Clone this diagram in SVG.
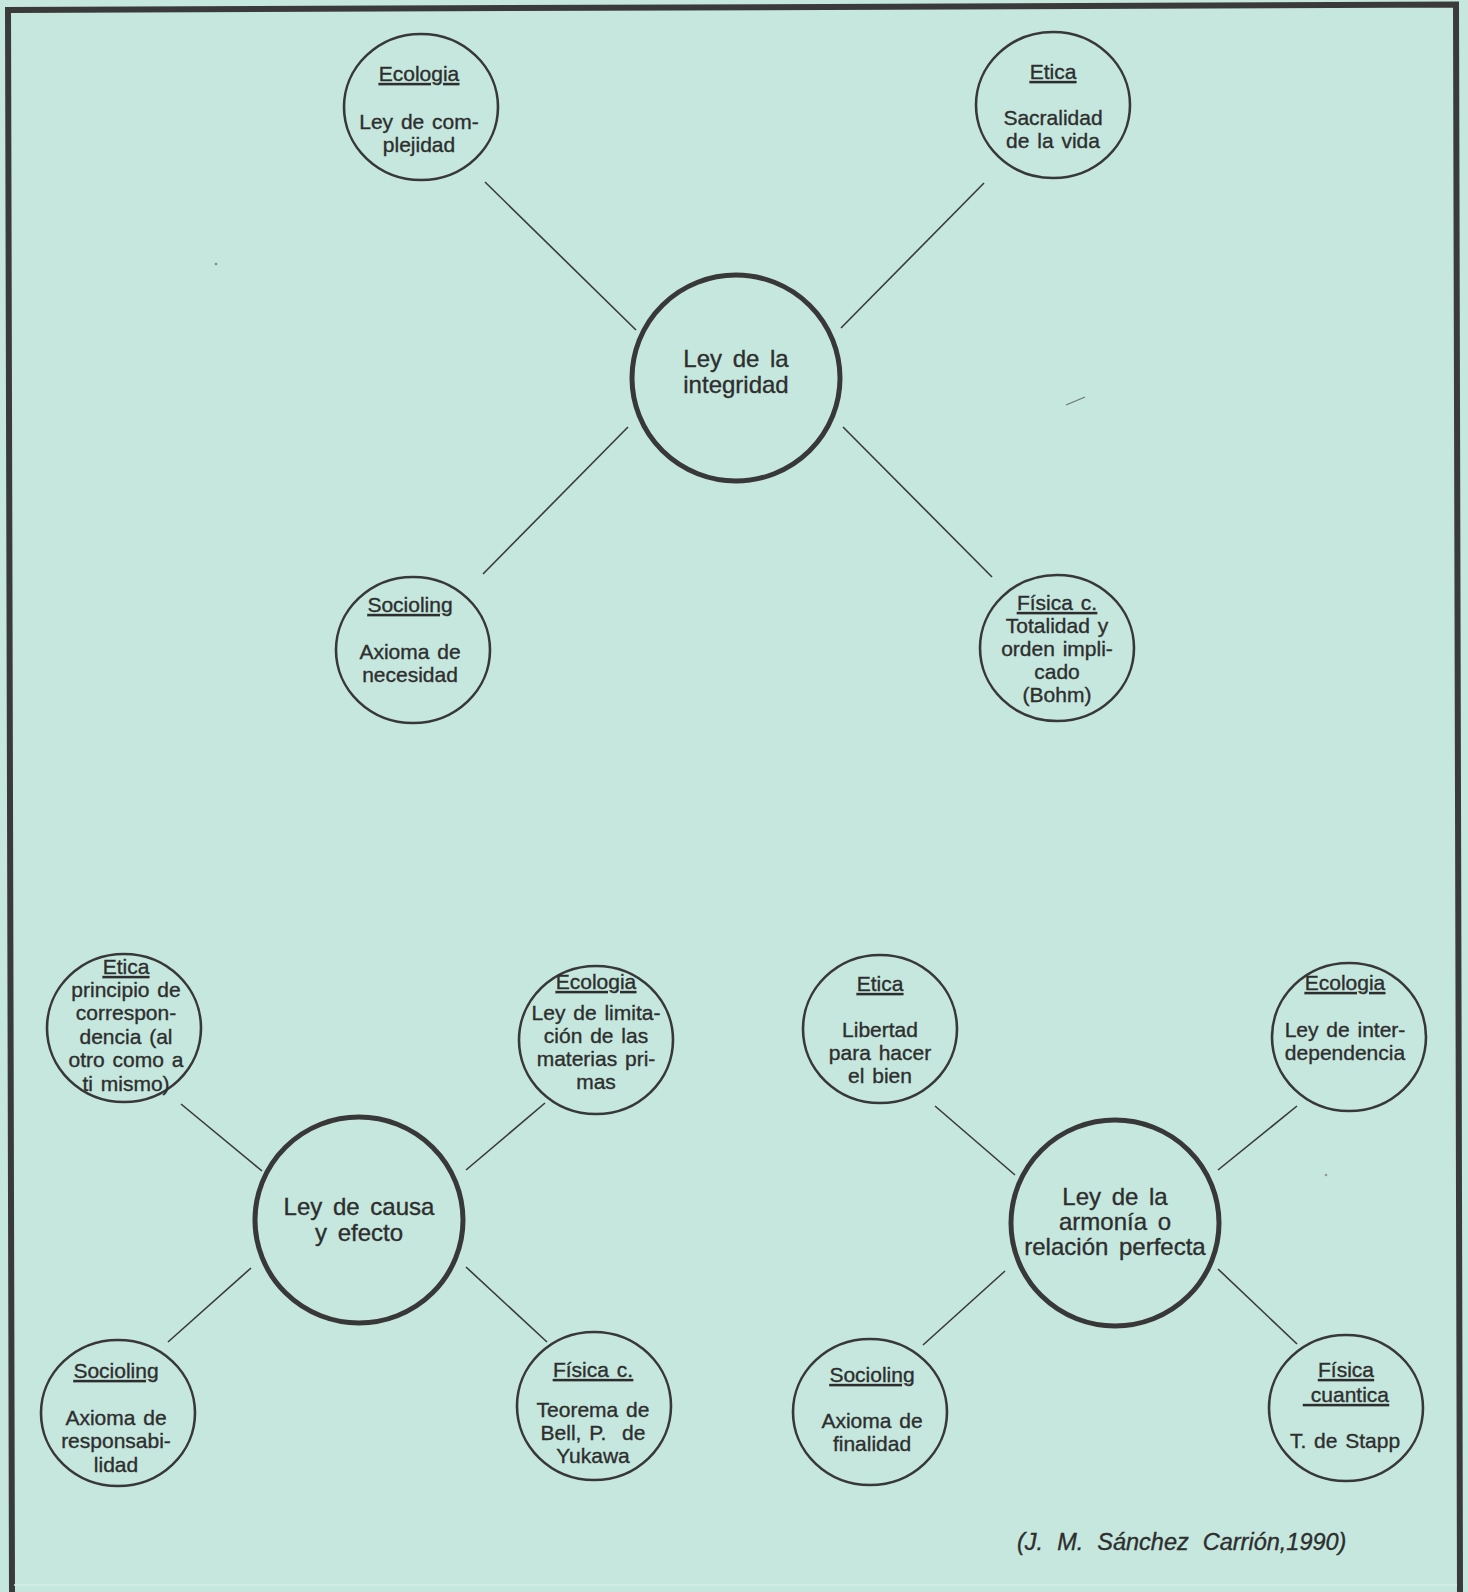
<svg xmlns="http://www.w3.org/2000/svg" width="1468" height="1592" viewBox="0 0 1468 1592">
<style>
.bg{fill:#c5e7dd}
.frame{fill:none;stroke:#3a3a3a;stroke-width:6;stroke-linejoin:miter}
.node{fill:none;stroke:#383838;stroke-width:2.6}
.hub{fill:none;stroke:#383838;stroke-width:5}
.edge{stroke:#3a3a3a;stroke-width:1.6;fill:none}
.mark{stroke:#6a7a76;stroke-width:1.2;fill:none}
text{font-family:"Liberation Sans",Arial,Helvetica,sans-serif;fill:#2e2e2e;stroke:#2e2e2e;stroke-width:0.35;text-anchor:middle}
.s{font-size:21px;word-spacing:2px}
.h{font-size:24px;word-spacing:4px}
.u{text-decoration:underline}
.cite{font-size:23.5px;font-style:italic;word-spacing:7.5px;text-anchor:start}
</style>
<rect class="bg" x="0" y="0" width="1468" height="1592"/>
<path class="frame" d="M12,1592 L8,10 L1456,4.5 L1460,1592"/>
<line x1="14" y1="1585" x2="1457" y2="1585" stroke="#d6efe8" stroke-width="1.5"/>
<g id="marks">
<circle cx="216" cy="264" r="1.3" fill="#7d8a86"/>
<path class="mark" d="M1066,405 L1085,397"/>
<circle cx="1326" cy="1175" r="1.3" fill="#8d9a96"/>
</g>
<g id="connectors">
<line class="edge" x1="485" y1="182" x2="636" y2="330"/>
<line class="edge" x1="984" y1="183" x2="841" y2="328"/>
<line class="edge" x1="483" y1="574" x2="628" y2="427"/>
<line class="edge" x1="843" y1="427" x2="992" y2="577"/>
<line class="edge" x1="181" y1="1104" x2="262" y2="1171"/>
<line class="edge" x1="545" y1="1103" x2="466" y2="1170"/>
<line class="edge" x1="168" y1="1342" x2="251" y2="1268"/>
<line class="edge" x1="466" y1="1267" x2="547" y2="1342"/>
<line class="edge" x1="935" y1="1106" x2="1015" y2="1175"/>
<line class="edge" x1="1297" y1="1106" x2="1218" y2="1170"/>
<line class="edge" x1="923" y1="1345" x2="1005" y2="1271"/>
<line class="edge" x1="1218" y1="1269" x2="1297" y2="1344"/>
</g>
<g id="hub-integridad">
<ellipse class="hub" cx="736" cy="378" rx="104" ry="103"/>
<text class="h" x="736" y="367">Ley de la</text>
<text class="h" x="736" y="393">integridad</text>
</g>
<g id="integridad-ecologia">
<ellipse class="node" cx="421" cy="107" rx="77" ry="73"/>
<text class="s u" x="419" y="81">Ecologia</text>
<text class="s" x="419" y="129">Ley de com-</text>
<text class="s" x="419" y="152">plejidad</text>
</g>
<g id="integridad-etica">
<ellipse class="node" cx="1053" cy="105" rx="77" ry="73"/>
<text class="s u" x="1053" y="79">Etica</text>
<text class="s" x="1053" y="125">Sacralidad</text>
<text class="s" x="1053" y="148">de la vida</text>
</g>
<g id="integridad-socioling">
<ellipse class="node" cx="413" cy="650" rx="77" ry="73"/>
<text class="s u" x="410" y="612">Socioling</text>
<text class="s" x="410" y="659">Axioma de</text>
<text class="s" x="410" y="682">necesidad</text>
</g>
<g id="integridad-fisica">
<ellipse class="node" cx="1057" cy="648" rx="77" ry="73"/>
<text class="s u" x="1057" y="610">Física c.</text>
<text class="s" x="1057" y="633">Totalidad y</text>
<text class="s" x="1057" y="656">orden impli-</text>
<text class="s" x="1057" y="679">cado</text>
<text class="s" x="1057" y="702">(Bohm)</text>
</g>
<g id="hub-causa">
<ellipse class="hub" cx="359" cy="1220" rx="104" ry="103"/>
<text class="h" x="359" y="1215">Ley de causa</text>
<text class="h" x="359" y="1241">y efecto</text>
</g>
<g id="causa-etica">
<ellipse class="node" cx="124" cy="1028" rx="77" ry="74"/>
<text class="s u" x="126" y="974">Etica</text>
<text class="s" x="126" y="997">principio de</text>
<text class="s" x="126" y="1020">correspon-</text>
<text class="s" x="126" y="1044">dencia (al</text>
<text class="s" x="126" y="1067">otro como a</text>
<text class="s" x="126" y="1091">ti mismo)</text>
</g>
<g id="causa-ecologia">
<ellipse class="node" cx="596" cy="1040" rx="77" ry="74"/>
<text class="s u" x="596" y="989">Ecologia</text>
<text class="s" x="596" y="1020">Ley de limita-</text>
<text class="s" x="596" y="1043">ción de las</text>
<text class="s" x="596" y="1066">materias pri-</text>
<text class="s" x="596" y="1089">mas</text>
</g>
<g id="causa-socioling">
<ellipse class="node" cx="118" cy="1413" rx="77" ry="73"/>
<text class="s u" x="116" y="1378">Socioling</text>
<text class="s" x="116" y="1425">Axioma de</text>
<text class="s" x="116" y="1448">responsabi-</text>
<text class="s" x="116" y="1472">lidad</text>
</g>
<g id="causa-fisica">
<ellipse class="node" cx="594" cy="1406" rx="77" ry="74"/>
<text class="s u" x="593" y="1377">Física c.</text>
<text class="s" x="593" y="1417">Teorema de</text>
<text class="s" x="593" y="1440" xml:space="preserve">Bell, P.  de</text>
<text class="s" x="593" y="1463">Yukawa</text>
</g>
<g id="hub-armonia">
<ellipse class="hub" cx="1115" cy="1223" rx="104" ry="103"/>
<text class="h" x="1115" y="1205">Ley de la</text>
<text class="h" x="1115" y="1230">armonía o</text>
<text class="h" x="1115" y="1255">relación perfecta</text>
</g>
<g id="armonia-etica">
<ellipse class="node" cx="880" cy="1029" rx="77" ry="74"/>
<text class="s u" x="880" y="991">Etica</text>
<text class="s" x="880" y="1037">Libertad</text>
<text class="s" x="880" y="1060">para hacer</text>
<text class="s" x="880" y="1083">el bien</text>
</g>
<g id="armonia-ecologia">
<ellipse class="node" cx="1349" cy="1037" rx="77" ry="74"/>
<text class="s u" x="1345" y="990">Ecologia</text>
<text class="s" x="1345" y="1037">Ley de inter-</text>
<text class="s" x="1345" y="1060">dependencia</text>
</g>
<g id="armonia-socioling">
<ellipse class="node" cx="870" cy="1412" rx="77" ry="73"/>
<text class="s u" x="872" y="1382">Socioling</text>
<text class="s" x="872" y="1428">Axioma de</text>
<text class="s" x="872" y="1451">finalidad</text>
</g>
<g id="armonia-fisica">
<ellipse class="node" cx="1346" cy="1408" rx="77" ry="73"/>
<text class="s u" x="1346" y="1377">Física</text>
<text class="s u" x="1346" y="1402" xml:space="preserve"> cuantica</text>
<text class="s" x="1345" y="1448">T. de Stapp</text>
</g>
<g id="citation">
<text class="cite" x="1017" y="1550">(J. M. Sánchez Carrión,1990)</text>
</g>
</svg>
